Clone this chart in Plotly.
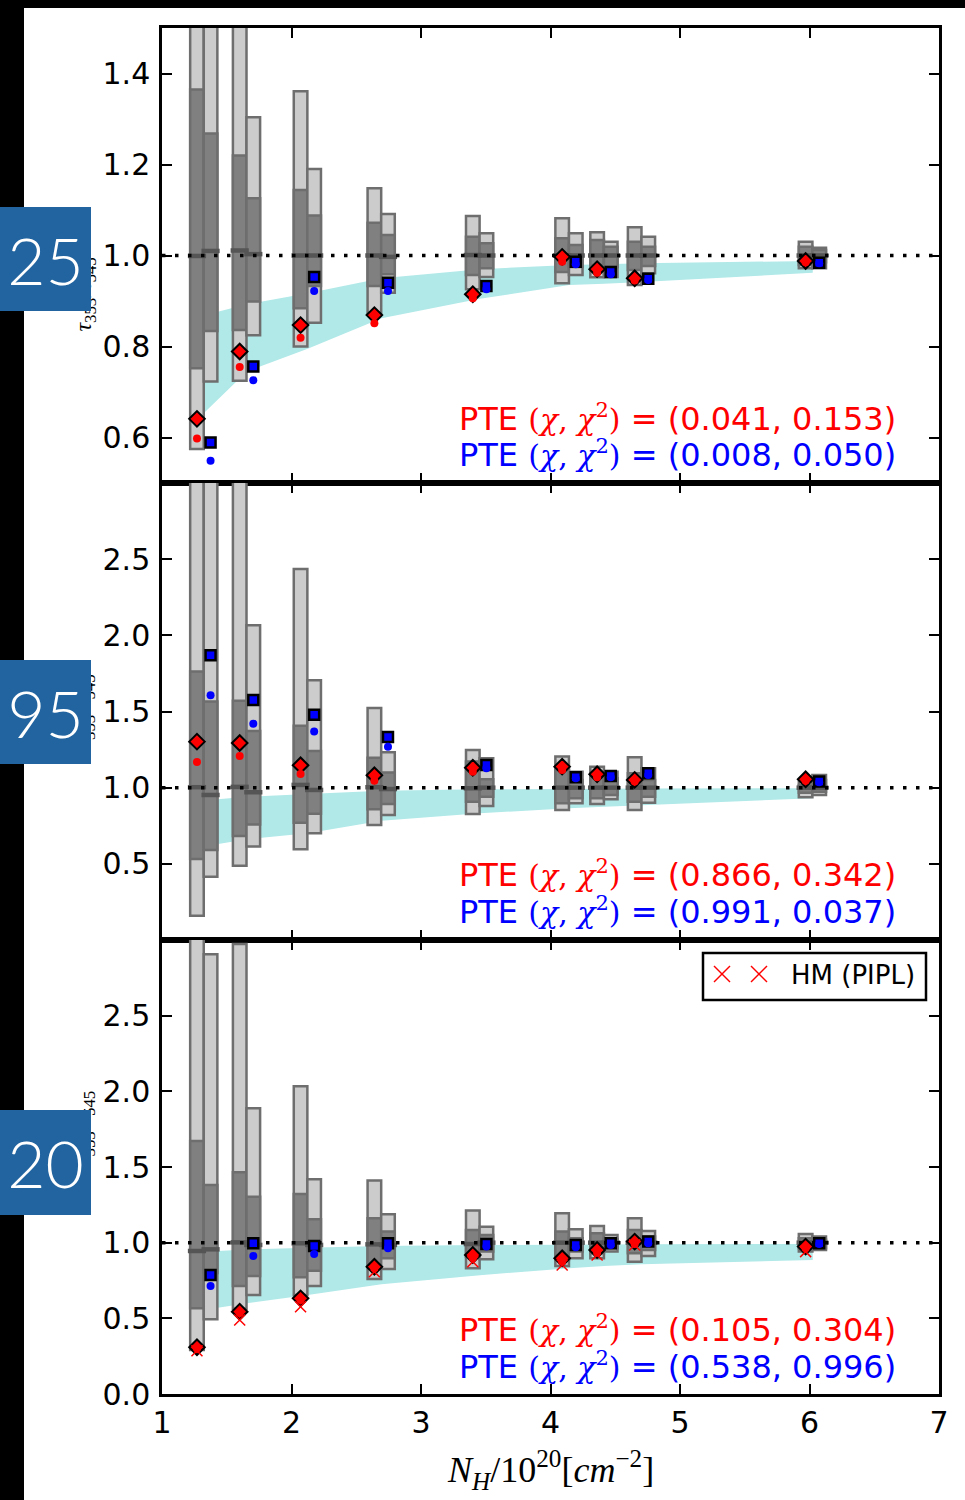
import plotly.graph_objects as go

W, H = 965, 1500


def px(x):
    return x / W


def py(y):
    return 1 - y / H


# ---------------- data ----------------
x_red = [1.27, 1.60, 2.07, 2.64, 3.40, 4.09, 4.36, 4.65, 5.97]
x_blue = [1.375, 1.705, 2.175, 2.745, 3.505, 4.195, 4.465, 4.755, 6.075]
x_band = [1.32, 1.655, 2.125, 2.695, 3.455, 4.145, 4.415, 4.705, 6.025]
x_span = [1, 7]
ref_level = 1.0

# panel 1
p1_left_lo2 = [0.575, 0.725, 0.800, 0.874, 0.926, 0.939, 0.952, 0.935, 0.972]
p1_left_lo1 = [0.752, 0.836, 0.884, 0.933, 0.957, 0.964, 0.979, 0.968, 0.979]
p1_left_med = [0.999, 1.011, 1.000, 1.000, 1.001, 1.000, 1.000, 1.000, 1.000]
p1_left_hi1 = [1.365, 1.220, 1.144, 1.072, 1.041, 1.038, 1.034, 1.030, 1.019]
p1_left_hi2 = [1.800, 1.750, 1.361, 1.148, 1.087, 1.082, 1.051, 1.062, 1.030]
p1_right_lo2 = [0.723, 0.825, 0.852, 0.918, 0.953, 0.957, 0.953, 0.961, 0.972]
p1_right_lo1 = [0.834, 0.899, 0.933, 0.959, 0.972, 0.975, 0.975, 0.977, 0.985]
p1_right_med = [1.010, 1.003, 1.000, 0.997, 1.000, 1.000, 1.000, 1.000, 1.000]
p1_right_hi1 = [1.268, 1.126, 1.088, 1.045, 1.027, 1.023, 1.019, 1.019, 1.012]
p1_right_hi2 = [1.600, 1.304, 1.190, 1.091, 1.049, 1.049, 1.030, 1.041, 1.017]
p1_diamond = [0.641, 0.789, 0.847, 0.869, 0.915, 0.997, 0.970, 0.950, 0.988]
p1_red_dot = [0.598, 0.755, 0.819, 0.851, 0.906, 0.986, 0.962, 0.945, 0.985]
p1_square = [0.589, 0.756, 0.953, 0.940, 0.933, 0.986, 0.964, 0.949, 0.984]
p1_blue_dot = [0.549, 0.726, 0.922, 0.922, 0.926, 0.981, 0.959, 0.946, 0.983]
p1_band_lo = [0.653, 0.745, 0.795, 0.862, 0.905, 0.935, 0.938, 0.942, 0.962]
p1_band_hi = [0.868, 0.893, 0.917, 0.950, 0.970, 0.979, 0.981, 0.983, 0.988]

# panel 2
p2_left_lo2 = [0.160, 0.488, 0.595, 0.755, 0.827, 0.854, 0.893, 0.854, 0.937]
p2_left_lo1 = [0.532, 0.683, 0.770, 0.858, 0.908, 0.897, 0.930, 0.908, 0.967]
p2_left_med = [1.003, 1.005, 1.018, 1.003, 0.996, 1.000, 1.000, 1.000, 1.000]
p2_left_hi1 = [1.762, 1.571, 1.407, 1.197, 1.171, 1.116, 1.094, 1.094, 1.018]
p2_left_hi2 = [3.300, 3.300, 2.436, 1.523, 1.247, 1.204, 1.138, 1.199, 1.040]
p2_right_lo2 = [0.416, 0.613, 0.700, 0.821, 0.880, 0.897, 0.924, 0.901, 0.952]
p2_right_lo1 = [0.591, 0.759, 0.829, 0.893, 0.941, 0.930, 0.952, 0.941, 0.974]
p2_right_med = [0.952, 0.970, 0.985, 0.991, 1.000, 1.000, 1.000, 1.000, 1.000]
p2_right_hi1 = [1.565, 1.372, 1.241, 1.100, 1.055, 1.051, 1.061, 1.051, 1.051]
p2_right_hi2 = [3.300, 2.066, 1.705, 1.232, 1.193, 1.105, 1.105, 1.127, 1.083]
p2_diamond = [1.302, 1.293, 1.147, 1.081, 1.131, 1.138, 1.088, 1.051, 1.055]
p2_red_dot = [1.169, 1.208, 1.090, 1.046, 1.105, 1.116, 1.068, 1.040, 1.046]
p2_square = [1.869, 1.576, 1.479, 1.333, 1.149, 1.068, 1.077, 1.094, 1.040]
p2_blue_dot = [1.607, 1.420, 1.368, 1.269, 1.127, 1.061, 1.068, 1.083, 1.035]
p2_band_lo = [0.613, 0.661, 0.700, 0.783, 0.832, 0.865, 0.875, 0.885, 0.930]
p2_band_hi = [0.915, 0.940, 0.959, 0.980, 0.989, 0.992, 0.993, 0.994, 0.996]

# panel 3
p3_left_lo2 = [0.291, 0.564, 0.654, 0.760, 0.831, 0.846, 0.897, 0.874, 0.941]
p3_left_lo1 = [0.566, 0.714, 0.771, 0.841, 0.907, 0.886, 0.930, 0.930, 0.963]
p3_left_med = [0.945, 1.002, 0.996, 0.989, 0.991, 1.000, 1.000, 1.000, 1.000]
p3_left_hi1 = [1.672, 1.465, 1.322, 1.161, 1.084, 1.073, 1.062, 1.084, 1.029]
p3_left_hi2 = [3.200, 2.974, 2.034, 1.410, 1.212, 1.194, 1.110, 1.161, 1.057]
p3_right_lo2 = [0.494, 0.654, 0.714, 0.826, 0.890, 0.897, 0.941, 0.912, 0.952]
p3_right_lo1 = [0.800, 0.780, 0.815, 0.897, 0.941, 0.941, 0.963, 0.952, 0.963]
p3_right_med = [0.956, 0.985, 0.985, 0.985, 1.000, 1.000, 1.000, 1.000, 1.000]
p3_right_hi1 = [1.381, 1.304, 1.154, 1.073, 1.051, 1.029, 1.025, 1.040, 1.020]
p3_right_hi2 = [2.906, 1.888, 1.419, 1.188, 1.106, 1.088, 1.051, 1.077, 1.040]
p3_diamond = [0.309, 0.544, 0.632, 0.841, 0.919, 0.897, 0.952, 1.007, 0.974]
p3_red_dot = [0.300, 0.535, 0.621, 0.830, 0.897, 0.874, 0.934, 0.991, 0.963]
p3_hm_pipl = [0.286, 0.489, 0.577, 0.808, 0.874, 0.853, 0.919, 0.985, 0.941]
p3_square = [0.786, 0.996, 0.978, 0.996, 0.991, 0.985, 0.996, 1.007, 0.996]
p3_blue_dot = [0.714, 0.912, 0.925, 0.963, 0.974, 0.970, 0.985, 0.996, 0.991]
p3_band_lo = [0.555, 0.599, 0.654, 0.725, 0.785, 0.831, 0.845, 0.858, 0.886]
p3_band_hi = [0.940, 0.955, 0.967, 0.978, 0.984, 0.987, 0.988, 0.989, 0.991]

pte_red = ["(0.041, 0.153)", "(0.866, 0.342)", "(0.105, 0.304)"]
pte_blue = ["(0.008, 0.050)", "(0.991, 0.037)", "(0.538, 0.996)"]
panel_tags = ["25", "95", "20"]

x_ticks = [1, 2, 3, 4, 5, 6, 7]
p1_yticks = [0.6, 0.8, 1.0, 1.2, 1.4]
p2_yticks = [0.5, 1.0, 1.5, 2.0, 2.5]
p3_yticks = [0.0, 0.5, 1.0, 1.5, 2.0, 2.5]
p1_yrange = [0.5, 1.5]
p2_yrange = [0.0, 3.0]
p3_yrange = [0.0, 3.0]

# ---------------- styles ----------------
LIGHT = "#cccccc"
DARK = "#808080"
EDGE = "#6e6e6e"
MED = "#555555"
CYAN = "#b0e9e8"
BOX_W = 0.105
TICK_FONT = dict(family="DejaVu Sans", size=30, color="black")

panels = [
    dict(lo2=(p1_left_lo2, p1_right_lo2), lo1=(p1_left_lo1, p1_right_lo1),
         med=(p1_left_med, p1_right_med), hi1=(p1_left_hi1, p1_right_hi1),
         hi2=(p1_left_hi2, p1_right_hi2), dia=p1_diamond, rdot=p1_red_dot,
         sq=p1_square, bdot=p1_blue_dot, blo=p1_band_lo, bhi=p1_band_hi,
         hm=None, top=28, bot=483, yr=p1_yrange, yt=p1_yticks,
         pte_y=(418, 454), tag_box=(207, 311)),
    dict(lo2=(p2_left_lo2, p2_right_lo2), lo1=(p2_left_lo1, p2_right_lo1),
         med=(p2_left_med, p2_right_med), hi1=(p2_left_hi1, p2_right_hi1),
         hi2=(p2_left_hi2, p2_right_hi2), dia=p2_diamond, rdot=p2_red_dot,
         sq=p2_square, bdot=p2_blue_dot, blo=p2_band_lo, bhi=p2_band_hi,
         hm=None, top=483, bot=940, yr=p2_yrange, yt=p2_yticks,
         pte_y=(874, 911), tag_box=(660, 764)),
    dict(lo2=(p3_left_lo2, p3_right_lo2), lo1=(p3_left_lo1, p3_right_lo1),
         med=(p3_left_med, p3_right_med), hi1=(p3_left_hi1, p3_right_hi1),
         hi2=(p3_left_hi2, p3_right_hi2), dia=p3_diamond, rdot=p3_red_dot,
         sq=p3_square, bdot=p3_blue_dot, blo=p3_band_lo, bhi=p3_band_hi,
         hm=p3_hm_pipl, top=940, bot=1394, yr=p3_yrange, yt=p3_yticks,
         pte_y=(1329, 1366), tag_box=(1110, 1215)),
]

fig = go.Figure()
layout = dict(
    width=W, height=H, margin=dict(l=0, r=0, t=0, b=0),
    paper_bgcolor="white", plot_bgcolor="white",
    barmode="overlay", showlegend=False, template="none",
)
annotations = []
shapes = []

for i, p in enumerate(panels):
    n = i + 1
    xa = "x" if n == 1 else f"x{n}"
    ya = "y" if n == 1 else f"y{n}"
    # band: polygon in data coordinates, drawn beneath all traces
    pts = list(zip(x_band, p["bhi"])) + list(zip(x_band[::-1], p["blo"][::-1]))
    path = "M" + " L".join(f"{a},{b}" for a, b in pts) + " Z"
    shapes.append(dict(type="path", xref=xa, yref=ya, path=path,
                       fillcolor=CYAN, line=dict(width=0), layer="below"))
    # boxes
    for k, xs in enumerate((x_red, x_blue)):
        lo2, hi2 = p["lo2"][k], p["hi2"][k]
        lo1, hi1 = p["lo1"][k], p["hi1"][k]
        fig.add_trace(go.Bar(
            x=xs, y=[h - l for h, l in zip(hi2, lo2)], base=lo2, width=BOX_W,
            marker=dict(color=LIGHT, line=dict(color=EDGE, width=2.5)),
            xaxis=xa, yaxis=ya, hoverinfo="skip"))
        fig.add_trace(go.Bar(
            x=xs, y=[h - l for h, l in zip(hi1, lo1)], base=lo1, width=BOX_W,
            marker=dict(color=DARK, line=dict(color=EDGE, width=2.5)),
            xaxis=xa, yaxis=ya, hoverinfo="skip"))
        fig.add_trace(go.Scatter(
            x=xs, y=p["med"][k], mode="markers",
            marker=dict(symbol="line-ew", size=13, line=dict(color=MED, width=4.5)),
            xaxis=xa, yaxis=ya, hoverinfo="skip"))
    # reference line
    fig.add_trace(go.Scatter(
        x=x_span, y=[ref_level, ref_level], mode="lines",
        line=dict(color="black", width=3.5, dash="3.5px,9.5px"),
        xaxis=xa, yaxis=ya, hoverinfo="skip"))
    # markers
    fig.add_trace(go.Scatter(
        x=x_red, y=p["dia"], mode="markers",
        marker=dict(symbol="diamond", size=12, color="red", line=dict(color="black", width=2)),
        xaxis=xa, yaxis=ya))
    fig.add_trace(go.Scatter(
        x=x_blue, y=p["sq"], mode="markers",
        marker=dict(symbol="square", size=10, color="blue", line=dict(color="black", width=2.5)),
        xaxis=xa, yaxis=ya))
    fig.add_trace(go.Scatter(
        x=x_red, y=p["rdot"], mode="markers",
        marker=dict(symbol="circle", size=8, color="red", line=dict(width=0)),
        xaxis=xa, yaxis=ya))
    fig.add_trace(go.Scatter(
        x=x_blue, y=p["bdot"], mode="markers",
        marker=dict(symbol="circle", size=8, color="blue", line=dict(width=0)),
        xaxis=xa, yaxis=ya))
    if p["hm"] is not None:
        fig.add_trace(go.Scatter(
            x=x_red, y=p["hm"], mode="markers", name="HM (PIPL)",
            marker=dict(symbol="x-thin", size=11, color="red", line=dict(color="red", width=1.5)),
            xaxis=xa, yaxis=ya))

    axis_common = dict(
        showline=True, linecolor="black", linewidth=2.5, mirror="ticks",
        ticks="inside", ticklen=10, tickwidth=1.5, tickcolor="black",
        showgrid=False, zeroline=False, automargin=False, fixedrange=True,
        tickfont=TICK_FONT,
    )
    layout["xaxis" if n == 1 else f"xaxis{n}"] = dict(
        axis_common, domain=[px(162), px(939)], range=[1, 7], anchor=ya,
        tickvals=x_ticks, ticktext=[str(t) for t in x_ticks],
        showticklabels=(n == 3), ticklabelstandoff=0)
    layout["yaxis" if n == 1 else f"yaxis{n}"] = dict(
        axis_common, domain=[py(p["bot"]), py(p["top"])], range=p["yr"], anchor=xa,
        tickvals=p["yt"], tickformat=".1f", ticklabelstandoff=3)

    chi = ("<span style='font-family:DejaVu Serif;font-size:30px'>"
           "(<i>χ</i>, <i>χ</i><sup>2</sup>)</span>")
    for txt, col, yy in ((pte_red[i], "red", p["pte_y"][0]), (pte_blue[i], "blue", p["pte_y"][1])):
        annotations.append(dict(
            x=px(898), y=py(yy), xref="paper", yref="paper", xanchor="right", yanchor="middle",
            text=f"PTE {chi} = {txt}", showarrow=False,
            font=dict(family="DejaVu Sans", size=32, color=col)))

    # y-axis label (mostly covered by the tag box)
    cy = (p["top"] + p["bot"]) / 2
    annotations.append(dict(
        x=px(67), y=py(cy), xref="paper", yref="paper", textangle=-90,
        text="<i>τ</i><sub>353</sub>/<i>τ</i><sub>545</sub>", showarrow=False,
        font=dict(family="Liberation Serif", size=24, color="black")))

# blue tag boxes (drawn after y labels so they cover them)
for i, p in enumerate(panels):
    t0, t1 = p["tag_box"]
    annotations.append(dict(
        x=px(45.5), y=py((t0 + t1) / 2), xref="paper", yref="paper",
        xanchor="center", yanchor="middle", width=91, height=t1 - t0,
        bgcolor="#21649f", borderpad=0, borderwidth=0,
        text=panel_tags[i], showarrow=False,
        font=dict(family="Lato", size=66, color="white", weight=300)))

# x-axis title
annotations.append(dict(
    x=px(550), y=py(1470), xref="paper", yref="paper", xanchor="center", yanchor="middle",
    text="<i>N</i><sub><i>H</i></sub>/10<sup>20</sup>[<i>cm</i><sup>−2</sup>]",
    showarrow=False, font=dict(family="Liberation Serif", size=36, color="black")))

# legend (panel 3)
shapes.append(dict(type="rect", xref="paper", yref="paper",
                   x0=px(703), x1=px(926), y0=py(1000), y1=py(953),
                   line=dict(color="black", width=2.5), fillcolor="white", layer="above"))
for cx in (722, 759):
    for d in (1, -1):
        shapes.append(dict(type="line", xref="paper", yref="paper",
                           x0=px(cx - 8), x1=px(cx + 8), y0=py(974 - 8 * d), y1=py(974 + 8 * d),
                           line=dict(color="red", width=1.5), layer="above"))
annotations.append(dict(
    x=px(789), y=py(975), xref="paper", yref="paper", xanchor="left", yanchor="middle",
    text="HM (PIPL)", showarrow=False, font=dict(family="DejaVu Sans", size=26, color="black")))

# black frame strips
shapes.append(dict(type="rect", xref="paper", yref="paper", x0=0, x1=px(24), y0=0, y1=1,
                   line=dict(width=0), fillcolor="black", layer="below"))
shapes.append(dict(type="rect", xref="paper", yref="paper", x0=0, x1=1, y0=py(8), y1=1,
                   line=dict(width=0), fillcolor="black", layer="below"))

layout["annotations"] = annotations
layout["shapes"] = shapes
fig.update_layout(**layout)
fig.write_html("out.html")
